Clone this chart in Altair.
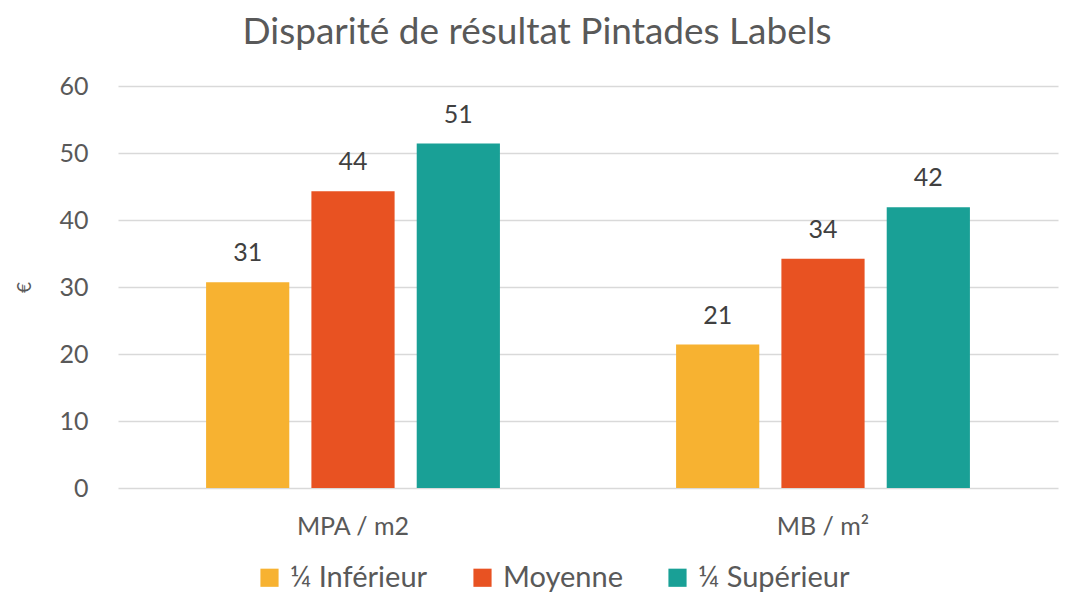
import altair as alt
import pandas as pd

categories = ["MPA / m2", "MB / m²"]
series = ["¼ Inférieur", "Moyenne", "¼ Supérieur"]
values_inferieur = [30.7, 21.4]
values_moyenne = [44.3, 34.2]
values_superieur = [51.4, 41.9]
colors = ["#F7B231", "#E85222", "#19A096"]

rows = []
for s, vals in zip(series, [values_inferieur, values_moyenne, values_superieur]):
    for c, v in zip(categories, vals):
        rows.append({"cat": c, "serie": s, "val": v, "lab": str(round(v))})
df = pd.DataFrame(rows)

FONT = "Lato"
GRAY = "#595959"

base = alt.Chart(df).encode(
    x=alt.X("cat:N", sort=categories, title=None,
            scale=alt.Scale(paddingInner=0.33, paddingOuter=0.165),
            axis=alt.Axis(labelAngle=0, labelFontSize=25, labelColor=GRAY, labelFont=FONT,
                          domain=False, ticks=False, labelPadding=26)),
    xOffset=alt.XOffset("serie:N", sort=series,
                        scale=alt.Scale(paddingInner=0.21, paddingOuter=0.1)),
    y=alt.Y("val:Q", title="€",
            scale=alt.Scale(domain=[0, 60]),
            axis=alt.Axis(values=[0, 10, 20, 30, 40, 50, 60], labelFontSize=25, labelColor=GRAY,
                          labelFont=FONT, domain=False, ticks=False, labelPadding=30,
                          gridColor="#D9D9D9", gridWidth=1.5, titleFontSize=19,
                          titleColor=GRAY, titleFont=FONT, titleFontWeight="normal",
                          titlePadding=24)),
)

bars = base.mark_bar().encode(
    color=alt.Color("serie:N", sort=series,
                    scale=alt.Scale(domain=series, range=colors),
                    legend=alt.Legend(orient="none", legendX=137, legendY=477,
                                      direction="horizontal", title=None,
                                      symbolType="square", symbolSize=330, symbolStrokeWidth=0,
                                      labelFontSize=29, labelColor=GRAY, labelFont=FONT,
                                      columnPadding=40, symbolOpacity=1, labelOffset=6))
)

text = base.mark_text(fontSize=25, color="#404040", font=FONT, dy=-16, baseline="bottom").encode(
    text="lab:N"
)

chart = alt.layer(bars, text).properties(
    width=940, height=402,
    padding={"left": 7, "top": 6, "right": 5, "bottom": 5},
    title=alt.TitleParams("Disparité de résultat Pintades Labels", fontSize=37, color=GRAY,
                          font=FONT, fontWeight="normal", anchor="middle", frame="bounds",
                          offset=22),
).configure_view(stroke=None)

chart.save("out.html", embed_options={"renderer": "svg", "actions": False})
